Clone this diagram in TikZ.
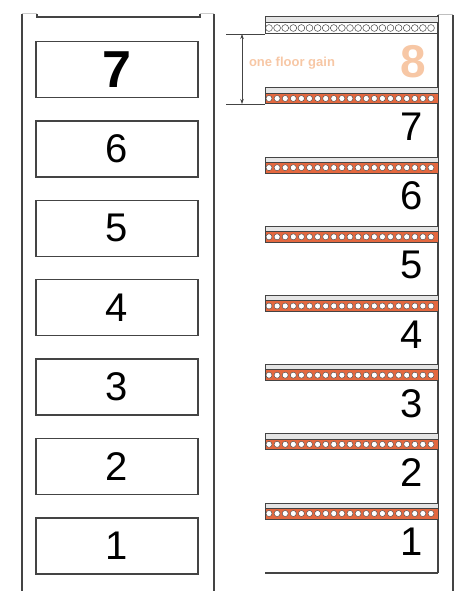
\documentclass[tikz,border=0pt]{standalone}
\usepackage{fontspec}
\setmainfont{Liberation Sans}
\usetikzlibrary{arrows.meta,positioning}

\definecolor{slaborange}{HTML}{E4683F}
\definecolor{gainorange}{HTML}{F7C7A5}
\definecolor{linegray}{HTML}{444444}

\begin{document}
\begin{tikzpicture}[
    x=1pt, y=-1pt,
    node distance=22.1pt,
    floorbox/.style={draw=linegray, line width=1.3pt, minimum width=162pt, minimum height=56pt, inner sep=0pt, font=\fontsize{40}{40}\selectfont},
    wall/.style={draw=linegray, line width=1.3pt},
    levellabel/.style={inner sep=0pt, font=\fontsize{40}{40}\selectfont},
    slabedge/.style={draw=linegray, line width=1pt},
    dimarrow/.style={{Stealth[length=5pt,width=3.5pt]}-{Stealth[length=5pt,width=3.5pt]}, line width=0.6pt, draw=linegray},
]
    \useasboundingbox (0,0) rectangle (458,591);

    % old building
    \draw[wall] (22,591) -- (22,14);
    \draw[wall] (214,14) -- (214,591);
    \draw[wall] (37,14) -- (37,17) -- (200,17) -- (200,14);
    \draw[gray!40, line width=1pt] (22,14) -- (37,14) (200,14) -- (214,14);

    \node[floorbox, font=\fontsize{52}{52}\selectfont\bfseries] (l7) at (117,69.5) {7};
    \foreach \n/\m in {6/7,5/6,4/5,3/4,2/3,1/2}
        \node[floorbox, below=of l\m] (l\n) {\n};

    % new building
    \draw[wall] (438,573) -- (438,15);
    \draw[gray!50, line width=1pt] (438,15) -- (453,15);
    \draw[wall] (453,15) -- (453,591);
    \draw[wall] (265,573) -- (438,573);

    \foreach \k in {1,...,7} {
        \pgfmathsetmacro\slabtop{503-(\k-1)*69.17}
        \coordinate (s\k) at (265,\slabtop);
        \coordinate (s\k b) at (265,\slabtop+16);
        \fill[gray!20] (s\k) rectangle (438,\slabtop+5);
        \fill[slaborange] (265,\slabtop+5) rectangle (438,\slabtop+16);
        \foreach \c in {0,...,20}
            \draw[fill=white, draw=linegray, line width=0.4pt] (269+\c*8.1,\slabtop+10.5) circle (3pt);
        \draw[slabedge] (s\k) rectangle (438,\slabtop+16);
        \draw[linegray, line width=0.6pt] (265,\slabtop+5) -- (438,\slabtop+5);
        \node[levellabel] (r\k) at (412,\slabtop+39) {\k};
    }

    % added floor
    \coordinate (s8) at (265,17);
    \coordinate (s8b) at (265,34);
    \fill[gray!20] (s8) rectangle (438,22);
    \foreach \c in {0,...,20}
        \draw[fill=white, draw=linegray, line width=0.5pt] (269+\c*8.1,28) circle (3.4pt);
    \draw[slabedge] (s8) rectangle (438,34);
    \draw[linegray, line width=0.6pt] (265,22) -- (438,22);

    \node[text=gainorange, font=\fontsize{46}{46}\selectfont\bfseries, inner sep=0pt] (eight) at (413,62) {8};
    \node[text=gainorange, font=\fontsize{13}{13}\selectfont\bfseries] (gain) at (292,63) {one floor gain};

    % dimension
    \coordinate (dimx) at (242,0);
    \draw[linegray, line width=0.8pt] (s8b) -- ++(-39,0);
    \draw[linegray, line width=0.8pt] (s7b) -- ++(-39,0);
    \draw[dimarrow] (dimx |- s8b) -- (dimx |- s7b);
\end{tikzpicture}
\end{document}
